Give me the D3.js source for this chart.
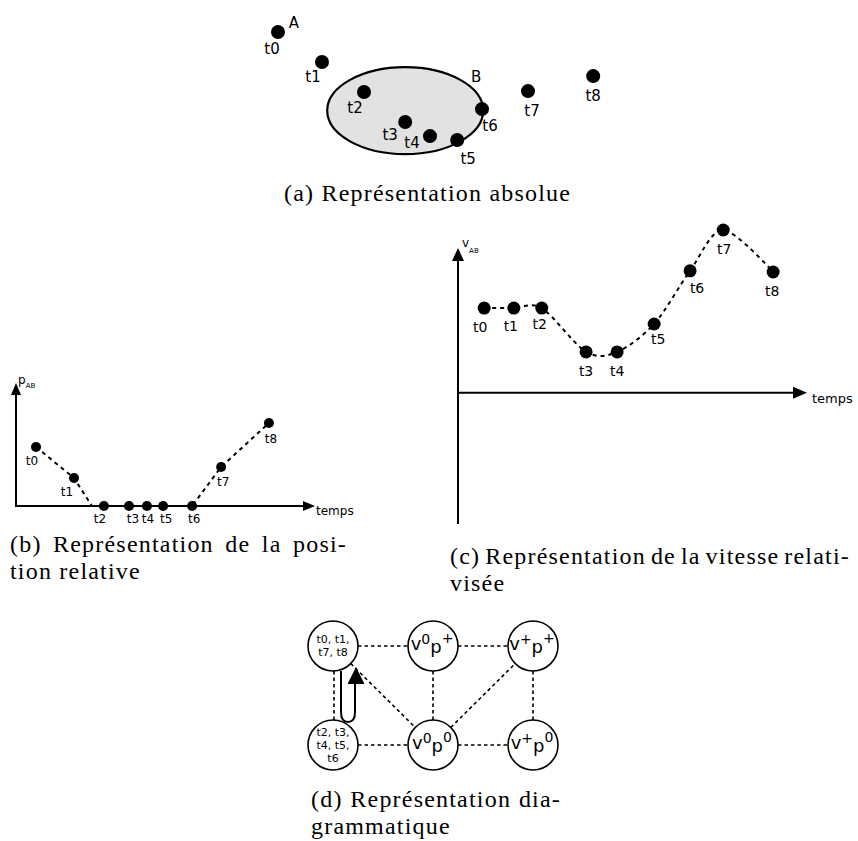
<!DOCTYPE html>
<html>
<head>
<meta charset="utf-8">
<script src="https://cdn.jsdelivr.net/npm/d3@7"></script>
<style>
  body { margin: 0; background: #fff; }
  svg text { font-family: "DejaVu Sans", sans-serif; fill: #000; }
  svg text.caption { font-family: "Liberation Serif", serif; font-size: 24px; letter-spacing: 1.2px; }
</style>
</head>
<body>
<div class="container"></div>
<script>
const WIDTH = 858,
      HEIGHT = 841;

// (a) absolute positions of A, and the zone B
const stepsA = ['t0', 't1', 't2', 't3', 't4', 't5', 't6', 't7', 't8'];
const posXA = [0.70, 1.80, 2.85, 3.88, 4.50, 5.18, 5.80, 6.95, 8.58];
const posYA = [4.60, 3.60, 2.60, 1.60, 1.13, 1.00, 2.03, 2.63, 3.13];
const zoneB = {cx: 3.88, cy: 1.98, rx: 1.95, ry: 1.45};
const labelShiftA = [[-6, 17], [-9, 15], [-9, 16], [-15, 13], [-18, 7], [11, 19], [8, 17], [4, 20], [0, 20]];

// (b) relative position p_AB over time
const stepsB = ['t0', 't1', 't2', 't3', 't4', 't5', 't6', 't7', 't8'];
const timesB = [0.67, 1.94, 2.94, 3.78, 4.38, 4.92, 5.89, 6.86, 8.46];
const distB = [1.92, 0.91, 0, 0, 0, 0, 0, 1.27, 2.70];
const contactB = [2.54, 0];   // where the dashed line meets the axis
const labelShiftB = [[-4, 14], [-7, 14], [-4, 13], [4, 13], [1, 13], [3, 13], [2, 13], [2, 15], [2, 16]];

// (c) relativised speed v_AB over time
const stepsC = ['t0', 't1', 't2', 't3', 't4', 't5', 't6', 't7', 't8'];
const timesC = [0.75, 1.60, 2.40, 3.67, 4.56, 5.62, 6.65, 7.60, 9.03];
const speedC = [2.82, 2.82, 2.82, 1.36, 1.36, 2.29, 4.06, 5.42, 4.02];
const labelShiftC = [[-4, 19], [-3, 18], [-2, 16], [0, 19], [0, 19], [4, 15], [7, 17], [1, 19], [-1, 19]];

// (d) qualitative states and transitions
const states = [
  {id: 'a', col: 0, row: 0, lines: ['t0, t1,', 't7, t8']},
  {id: 'b', col: 1, row: 0, v: '0', p: '+'},
  {id: 'c', col: 2, row: 0, v: '+', p: '+'},
  {id: 'd', col: 0, row: 1, lines: ['t2, t3,', 't4, t5,', 't6']},
  {id: 'e', col: 1, row: 1, v: '0', p: '0'},
  {id: 'f', col: 2, row: 1, v: '+', p: '0'}
];
const transitions = [['a', 'b'], ['b', 'c'], ['d', 'e'], ['e', 'f'], ['a', 'd'], ['b', 'e'], ['c', 'f'], ['a', 'e'], ['e', 'c']];

const captions = [
  ['(a) Représentation absolue'],
  ['(b) Représentation de la posi-', 'tion relative'],
  ['(c) Représentation de la vitesse relati-', 'visée'],
  ['(d) Représentation dia-', 'grammatique']
];

var svg = d3.select('.container').append('svg')
    .attr('width', WIDTH).attr('height', HEIGHT);
svg.append('rect').attr('width', WIDTH).attr('height', HEIGHT).attr('fill', '#fff');

function arrowHead(g, x, y, dir, len, half) {
  // dir: 'up' or 'right', (x,y) is the tip
  var pts = dir === 'up'
    ? [[x, y], [x - half, y + len], [x + half, y + len]]
    : [[x, y], [x - len, y - half], [x - len, y + half]];
  g.append('path').attr('d', d3.line()(pts) + 'Z').attr('fill', '#000');
}

function labels(g, data, xs, ys, shift, size) {
  g.selectAll('text.lbl').data(data).enter().append('text')
    .attr('class', 'lbl')
    .attr('x', (d, i) => xs(i) + shift[i][0])
    .attr('y', (d, i) => ys(i) + shift[i][1])
    .attr('text-anchor', 'middle')
    .attr('dominant-baseline', 'central')
    .style('font-size', size + 'px')
    .text(d => d);
}

// ---------- (a)
var xA = d3.scaleLinear().domain([0, 10]).range([250, 650]);
var yA = d3.scaleLinear().domain([0, 5]).range([170, 20]);
var gA = svg.append('g');

gA.append('ellipse')
  .attr('cx', xA(zoneB.cx)).attr('cy', yA(zoneB.cy))
  .attr('rx', xA(zoneB.rx) - xA(0)).attr('ry', yA(0) - yA(zoneB.ry))
  .attr('fill', '#e2e2e2').attr('stroke', '#000').attr('stroke-width', 2.2);

gA.selectAll('circle.dot').data(stepsA).enter().append('circle')
  .attr('class', 'dot')
  .attr('cx', (d, i) => xA(posXA[i])).attr('cy', (d, i) => yA(posYA[i]))
  .attr('r', 7).attr('fill', '#000');
labels(gA, stepsA, i => xA(posXA[i]), i => yA(posYA[i]), labelShiftA, 15);

gA.append('text').attr('x', xA(posXA[0]) + 16).attr('y', yA(posYA[0]) - 9)
  .attr('text-anchor', 'middle').attr('dominant-baseline', 'central')
  .style('font-size', '15px').text('A');
gA.append('text').attr('x', xA(zoneB.cx) + 71).attr('y', yA(zoneB.cy) - 34)
  .attr('text-anchor', 'middle').attr('dominant-baseline', 'central')
  .style('font-size', '15px').text('B');

// ---------- (b)
var xB = d3.scaleLinear().domain([0, 10]).range([16, 315]);
var yB = d3.scaleLinear().domain([0, 4]).range([506, 383]);
var gB = svg.append('g');

gB.append('line').attr('x1', xB(0)).attr('x2', xB(0)).attr('y1', yB(0) + 1).attr('y2', yB(4) + 10)
  .attr('stroke', '#000').attr('stroke-width', 2);
gB.append('line').attr('x1', xB(0) - 1).attr('x2', xB(10) - 10).attr('y1', yB(0)).attr('y2', yB(0))
  .attr('stroke', '#000').attr('stroke-width', 2);
arrowHead(gB, xB(0), yB(4), 'up', 12, 5);
arrowHead(gB, xB(10), yB(0), 'right', 12, 5);

var lineB = timesB.map((t, i) => [t, distB[i]]);
lineB.splice(2, 0, contactB);
gB.append('path').datum(lineB)
  .attr('d', d3.line().x(d => xB(d[0])).y(d => yB(d[1])))
  .attr('fill', 'none').attr('stroke', '#000').attr('stroke-width', 2).attr('stroke-dasharray', '4,4');

gB.selectAll('circle.dot').data(stepsB).enter().append('circle')
  .attr('class', 'dot')
  .attr('cx', (d, i) => xB(timesB[i])).attr('cy', (d, i) => yB(distB[i]))
  .attr('r', 5).attr('fill', '#000');
labels(gB, stepsB, i => xB(timesB[i]), i => yB(distB[i]), labelShiftB, 12);

var pLab = gB.append('text').attr('x', xB(0) + 2).attr('y', yB(4) + 1).style('font-size', '12px');
pLab.append('tspan').text('p');
pLab.append('tspan').attr('dy', 4).style('font-size', '7px').text('AB');
gB.append('text').attr('x', xB(10) + 1).attr('y', yB(0) + 5).attr('dominant-baseline', 'central')
  .style('font-size', '12px').text('temps');

// ---------- (c)
var xC = d3.scaleLinear().domain([0, 10]).range([458, 807]);
var yC = d3.scaleLinear().domain([-4.37, 4.82]).range([524, 248]);
var gC = svg.append('g');

gC.append('line').attr('x1', xC(0)).attr('x2', xC(0)).attr('y1', yC(-4.37)).attr('y2', yC(4.82) + 12)
  .attr('stroke', '#000').attr('stroke-width', 2);
gC.append('line').attr('x1', xC(0)).attr('x2', xC(10) - 12).attr('y1', yC(0)).attr('y2', yC(0))
  .attr('stroke', '#000').attr('stroke-width', 2);
arrowHead(gC, xC(0), yC(4.82), 'up', 13, 6);
arrowHead(gC, xC(10), yC(0), 'right', 14, 6);

gC.append('path').datum(timesC.map((t, i) => [t, speedC[i]]))
  .attr('d', d3.line().curve(d3.curveCardinal.tension(0.1)).x(d => xC(d[0])).y(d => yC(d[1])))
  .attr('fill', 'none').attr('stroke', '#000').attr('stroke-width', 2).attr('stroke-dasharray', '4,4');

gC.selectAll('circle.dot').data(stepsC).enter().append('circle')
  .attr('class', 'dot')
  .attr('cx', (d, i) => xC(timesC[i])).attr('cy', (d, i) => yC(speedC[i]))
  .attr('r', 6.5).attr('fill', '#000');
labels(gC, stepsC, i => xC(timesC[i]), i => yC(speedC[i]), labelShiftC, 14);

var vLab = gC.append('text').attr('x', xC(0) + 4).attr('y', yC(4.82) - 1).style('font-size', '12px');
vLab.append('tspan').text('v');
vLab.append('tspan').attr('dy', 6).style('font-size', '7px').text('AB');
gC.append('text').attr('x', xC(10) + 5).attr('y', yC(0) + 6).attr('dominant-baseline', 'central')
  .style('font-size', '13px').text('temps');

// ---------- (d)
var xD = d3.scaleLinear().domain([0, 2]).range([333, 533]);
var yD = d3.scaleLinear().domain([0, 1]).range([646, 745]);
const R = 25;
var gD = svg.append('g');
var byId = {};
states.forEach(s => { byId[s.id] = s; s.x = xD(s.col); s.y = yD(s.row); });

gD.selectAll('line.edge').data(transitions).enter().append('line')
  .attr('class', 'edge')
  .each(function(e) {
    var a = byId[e[0]], b = byId[e[1]];
    var dx = b.x - a.x, dy = b.y - a.y, len = Math.hypot(dx, dy);
    var ux = dx / len, uy = dy / len;
    var off = (a.col === 0 && b.col === 0) ? 1 : 0;
    d3.select(this)
      .attr('x1', a.x + ux * R + off).attr('y1', a.y + uy * R)
      .attr('x2', b.x - ux * R + off).attr('y2', b.y - uy * R);
  })
  .attr('stroke', '#000').attr('stroke-width', 1.6).attr('stroke-dasharray', '3.5,3');

var node = gD.selectAll('g.state').data(states).enter().append('g')
  .attr('class', 'state')
  .attr('transform', d => 'translate(' + d.x + ',' + d.y + ')');
node.append('circle').attr('r', R).attr('fill', '#fff').attr('stroke', '#000').attr('stroke-width', 1.6);

node.filter(d => d.lines).each(function(d) {
  var n = d.lines.length, step = 13;
  d3.select(this).selectAll('text').data(d.lines).enter().append('text')
    .attr('text-anchor', 'middle').attr('dominant-baseline', 'central')
    .attr('y', (l, i) => (i - (n - 1) / 2) * step)
    .style('font-size', '11px')
    .text(l => l);
});
node.filter(d => d.v).each(function(d) {
  var t = d3.select(this).append('text').attr('text-anchor', 'middle').attr('x', -1).attr('y', 4);
  t.append('tspan').style('font-size', '18px').text('v');
  t.append('tspan').attr('dy', -6).style('font-size', '14px').text(d.v);
  t.append('tspan').attr('dy', 9).style('font-size', '18px').text('p');
  t.append('tspan').attr('dy', -10).style('font-size', '14px').text(d.p);
});

// loop arrow from the lower-left state back to the upper-left one
var src = byId['a'];
var loop = d3.path();
loop.moveTo(src.x + 8, src.y + R);
loop.lineTo(src.x + 8, src.y + 66);
loop.quadraticCurveTo(src.x + 8, src.y + 76, src.x + 15, src.y + 76);
loop.quadraticCurveTo(src.x + 22, src.y + 76, src.x + 22, src.y + 66);
loop.lineTo(src.x + 22, src.y + 37);
gD.append('path').attr('d', loop.toString())
  .attr('fill', 'none').attr('stroke', '#000').attr('stroke-width', 2);
arrowHead(gD, src.x + 23, src.y + 21, 'up', 17, 8.5);

// ---------- captions (justified lines get their width through word spacing)
var capPos = [
  {x: 284, y: 201, w: [null]},
  {x: 10, y: 552, w: [337, null]},
  {x: 450, y: 564, w: [400, null]},
  {x: 311, y: 807, w: [250, null]}
];
captions.forEach((lines, k) => {
  lines.forEach((txt, j) => {
    var t = svg.append('text').attr('class', 'caption')
      .attr('x', capPos[k].x).attr('y', capPos[k].y + j * 27)
      .text(txt);
    var target = capPos[k].w[j];
    if (target) {
      var spaces = txt.split(' ').length - 1;
      var w0 = t.node().getBBox().width;
      t.style('word-spacing', ((target - w0) / spaces) + 'px');
    }
  });
});
</script>
</body>
</html>
